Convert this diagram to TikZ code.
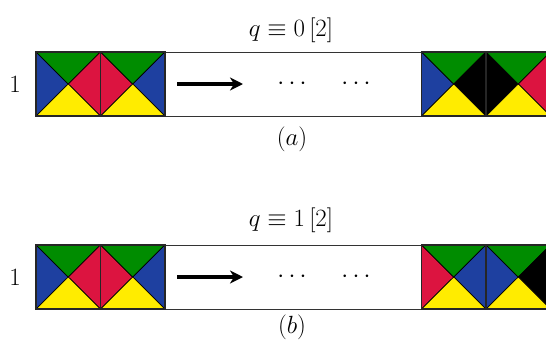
\documentclass[tikz,border=0pt]{standalone}
\usetikzlibrary{arrows.meta}
\definecolor{tgreen}{RGB}{0,140,0}
\definecolor{tblue}{RGB}{30,64,160}
\definecolor{tred}{RGB}{220,20,64}
\definecolor{tyellow}{RGB}{255,236,0}
\newcommand{\mytile}[6]{%
  % #1,#2 = lower-left corner (x, y-bottom), #3 left, #4 top, #5 right, #6 bottom
  \begin{scope}[shift={(#1,#2)}]
    \filldraw[fill=#3,tri] (0,0) -- (32.25,-32) -- (0,-64) -- cycle;
    \filldraw[fill=#4,tri] (0,-64) -- (32.25,-32) -- (64.5,-64) -- cycle;
    \filldraw[fill=#5,tri] (64.5,-64) -- (32.25,-32) -- (64.5,0) -- cycle;
    \filldraw[fill=#6,tri] (64.5,0) -- (32.25,-32) -- (0,0) -- cycle;
    \draw[tileedge] (0,0) rectangle (64.5,-64);
  \end{scope}}
\begin{document}
\begin{tikzpicture}[x=1pt,y=-1pt,
  tri/.style={draw=black,line width=0.7pt,line join=round},
  tileedge/.style={draw=black!85,line width=1.1pt},
  strip/.style={draw=black!80,line width=1pt},
  lbl/.style={font=\fontsize{29}{34}\selectfont,inner sep=0pt},
  arr/.style={line width=3.2pt,-{Stealth[length=13pt,width=13pt,inset=4pt]}}]
\useasboundingbox (0,0) rectangle (546,346);
\clip (0,0) rectangle (546,346);
% ---------- (a) ----------
\draw[strip] (36,52) rectangle (560,116);
\mytile{36}{116}{tblue}{tgreen}{tred}{tyellow}
\mytile{100.5}{116}{tred}{tgreen}{tblue}{tyellow}
\mytile{421.5}{116}{tblue}{tgreen}{black}{tyellow}
\mytile{486}{116}{black}{tgreen}{tred}{tyellow}
\node[lbl] (oneA) at (15,84) {$1$};
\node[lbl] (capA) at (291,30) {$q\equiv 0\,[2]$};
\node[lbl] (subA) at (292,139) {$(a)$};
\coordinate (aS) at (177,84);
\coordinate (aE) at (243,84);
\draw[arr] (aS) -- (aE);
\node[lbl] (dA1) at (292,84) {$\cdots$};
\node[lbl] (dA2) at (356,84) {$\cdots$};
% ---------- (b) ----------
\draw[strip] (36,245) rectangle (560,309);
\mytile{36}{309}{tblue}{tgreen}{tred}{tyellow}
\mytile{100.5}{309}{tred}{tgreen}{tblue}{tyellow}
\mytile{421.5}{309}{tred}{tgreen}{tblue}{tyellow}
\mytile{486}{309}{tblue}{tgreen}{black}{tyellow}
\node[lbl] (oneB) at (15,277) {$1$};
\node[lbl] (capB) at (291,220) {$q\equiv 1\,[2]$};
\node[lbl] (subB) at (292,327) {$(b)$};
\coordinate (bS) at (177,277);
\coordinate (bE) at (243,277);
\draw[arr] (bS) -- (bE);
\node[lbl] (dB1) at (292,277) {$\cdots$};
\node[lbl] (dB2) at (356,277) {$\cdots$};
\end{tikzpicture}
\end{document}
